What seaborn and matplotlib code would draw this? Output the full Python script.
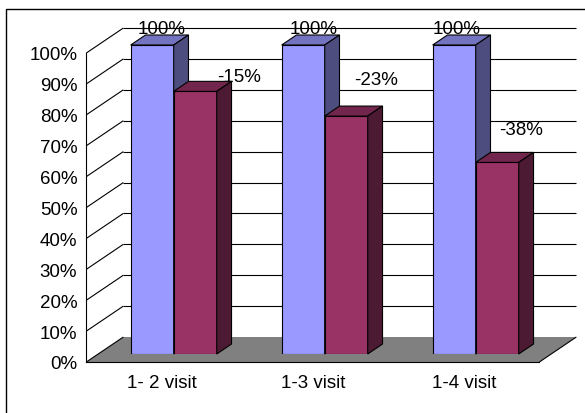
import matplotlib
matplotlib.use("Agg")
import matplotlib.pyplot as plt
from matplotlib.patches import Polygon, Rectangle
from matplotlib.lines import Line2D
from matplotlib.ticker import PercentFormatter
import numpy as np
import pandas as pd
import seaborn as sns

# ---- data -------------------------------------------------------------
categories = ["1- 2 visit", "1-3 visit", "1-4 visit"]
series = ["First visit", "Returning"]
first_visit = [100, 100, 100]          # percent
change = [-15, -23, -38]               # percent change vs. first visit
returning = [f + c for f, c in zip(first_visit, change)]
y_ticks = list(range(0, 101, 10))

df = pd.DataFrame({
    "visit": categories * 2,
    "series": [series[0]] * len(categories) + [series[1]] * len(categories),
    "value": first_visit + returning,
})

# ---- figure / styling -------------------------------------------------
W, H, DPI = 585, 414, 100
sns.set_theme(style="white")
plt.rcParams["font.family"] = ["Liberation Sans", "DejaVu Sans"]
FS = 13.5

fig = plt.figure(figsize=(W / DPI, H / DPI), dpi=DPI)
fig.patch.set_facecolor("white")

# oblique 3-D look: each pixel of depth moves a point up 1px and right SLANT px
SLANT = 1.48
D_FRONT, D_BAR_BACK, D_WALL = -8, 10, 17


def rect_px(left, base_from_top, width, height):
    return [left / W, (H - base_from_top) / H, width / W, height / H]


PLANE_LEFT, PLANE_BASE, PLANE_W, PLANE_H = 98.2, 355, 453, 309

# plane holding the bar front faces
ax = fig.add_axes(rect_px(PLANE_LEFT, PLANE_BASE, PLANE_W, PLANE_H), zorder=1)
# front plane carrying the value axis and the category axis
ax_front = fig.add_axes(rect_px(PLANE_LEFT + SLANT * D_FRONT, PLANE_BASE - D_FRONT,
                                PLANE_W, PLANE_H), zorder=2)

palette = {series[0]: "#9999FF", series[1]: "#993366"}
sns.barplot(data=df, x="visit", y="value", hue="series", palette=palette,
            saturation=1, width=0.57, edgecolor="black", linewidth=0.8,
            legend=False, ax=ax)
bars = list(ax.patches)
ax.set_xlim(-0.5, len(categories) - 0.5)
ax.set_ylim(0, 100)
ax.set_axis_off()


def at_depth(x, y, d):
    """Data point of the bar plane pushed back by d pixels of depth."""
    px, py = ax.transData.transform((x, y))
    return ax.transData.inverted().transform((px + SLANT * d, py + d))


x_lo, x_hi = ax.get_xlim()
line_kw = dict(color="black", lw=0.8, clip_on=False, solid_capstyle="butt")

# floor
floor = [at_depth(x_lo, 0, D_FRONT), at_depth(x_hi, 0, D_FRONT),
         at_depth(x_hi, 0, D_WALL), at_depth(x_lo, 0, D_WALL)]
ax.add_patch(Polygon(floor, closed=True, facecolor="#808080", edgecolor="none",
                     clip_on=False, zorder=0.4))
a, b = floor[1], floor[2]
ax.add_line(Line2D([a[0], b[0]], [a[1], b[1]], zorder=0.5, **line_kw))

# back wall gridlines and side wall diagonals
for v in y_ticks:
    if v > 0:
        a, b = at_depth(x_lo, v, D_WALL), at_depth(x_hi, v, D_WALL)
        ax.add_line(Line2D([a[0], b[0]], [a[1], b[1]], zorder=0.3, **line_kw))
    a, b = at_depth(x_lo, v, D_FRONT), at_depth(x_lo, v, D_WALL)
    ax.add_line(Line2D([a[0], b[0]], [a[1], b[1]], zorder=0.5, **line_kw))

# top and side faces of every bar, shaded from its front colour
n_cat = len(categories)
for i, bar in enumerate(bars):
    hue_i, cat_i = divmod(i, n_cat)
    z = 2 + cat_i * 2 + hue_i
    bar.set_zorder(z)
    x0, w, h = bar.get_x(), bar.get_width(), bar.get_height()
    rgb = np.array(bar.get_facecolor()[:3])
    top = [at_depth(x0, h, 0), at_depth(x0 + w, h, 0),
           at_depth(x0 + w, h, D_BAR_BACK), at_depth(x0, h, D_BAR_BACK)]
    side = [at_depth(x0 + w, 0, 0), at_depth(x0 + w, h, 0),
            at_depth(x0 + w, h, D_BAR_BACK), at_depth(x0 + w, 0, D_BAR_BACK)]
    ax.add_patch(Polygon(top, closed=True, facecolor=rgb * 0.75, edgecolor="black",
                         lw=0.8, clip_on=False, zorder=z))
    ax.add_patch(Polygon(side, closed=True, facecolor=rgb * 0.5, edgecolor="black",
                         lw=0.8, clip_on=False, zorder=z))

# value labels
labels = [f"{v}%" for v in first_visit] + [f"{c}%" for c in change]
label_offsets = [(9, 17), (10, 17), (2, 17), (44, 15), (30, 37), (24, 33)]
for bar, text, off in zip(bars, labels, label_offsets):
    ax.annotate(text, xy=(bar.get_x() + bar.get_width() / 2, bar.get_height()),
                xytext=off, textcoords="offset pixels", ha="center", va="center",
                fontsize=FS, color="black", annotation_clip=False, zorder=20)

# front axes: value axis and category axis
ax_front.patch.set_visible(False)
ax_front.set_xlim(x_lo, x_hi)
ax_front.set_ylim(0, 100)
for side_name in ("top", "right"):
    ax_front.spines[side_name].set_visible(False)
for side_name in ("left", "bottom"):
    ax_front.spines[side_name].set_color("black")
    ax_front.spines[side_name].set_linewidth(0.8)
ax_front.set_yticks(y_ticks)
ax_front.yaxis.set_major_formatter(PercentFormatter(xmax=100, decimals=0))
ax_front.set_xticks(np.arange(x_lo, x_hi + 0.01, 1.0))
ax_front.set_xticklabels([])
ax_front.set_xticks(np.arange(n_cat), minor=True)
ax_front.set_xticklabels(categories, minor=True)
ax_front.tick_params(axis="both", which="major", direction="out", length=3,
                     width=0.8, color="black", labelsize=FS, labelcolor="black")
ax_front.tick_params(axis="y", pad=3.5)
ax_front.tick_params(axis="x", which="minor", length=0, pad=8.5, labelsize=FS,
                     labelcolor="black")
ax_front.set_xlabel("")
ax_front.set_ylabel("")

# chart area border
fig.add_artist(Rectangle((6 / W, -0.1), 1.2, (H - 10) / H + 0.1,
                         transform=fig.transFigure, fill=False,
                         edgecolor="black", lw=1.0))

fig.savefig("out.png", dpi=DPI)
